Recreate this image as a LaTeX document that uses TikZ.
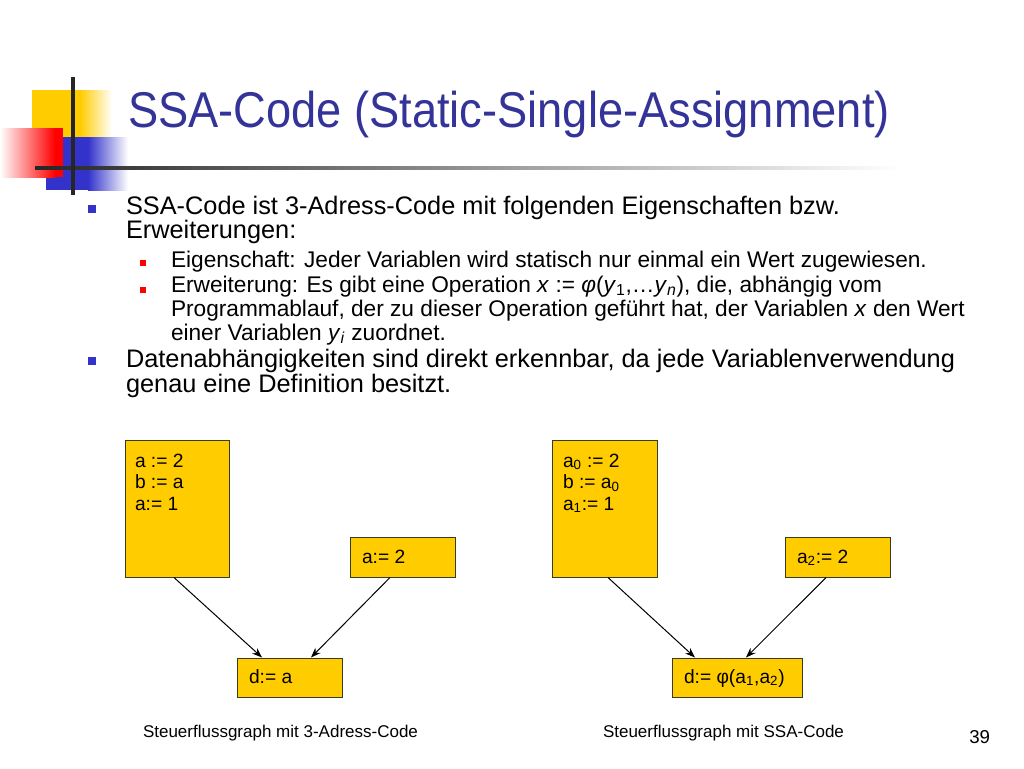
\documentclass[tikz,border=0pt]{standalone}
\usepackage{fontspec}
\setmainfont{Liberation Sans}
\newfontfamily\titlefont[FakeStretch=0.9]{Liberation Sans}
\usetikzlibrary{arrows.meta}
\definecolor{gold}{HTML}{FFCC00}
\definecolor{titleblue}{HTML}{333399}
\definecolor{bulletblue}{HTML}{3333CC}
\definecolor{decoblue}{HTML}{3333CC}
\definecolor{boxline}{HTML}{3A3A20}
\begin{document}
\begin{tikzpicture}[x=0.75pt,y=-0.75pt,
  txt/.style={anchor=base west,inner sep=0pt,outer sep=0pt},
  lone/.style={txt,font=\fontsize{19}{22}\selectfont},
  ltwo/.style={txt,font=\fontsize{17}{20}\selectfont},
  btxt/.style={txt,font=\fontsize{14.4}{17}\selectfont},
  captxt/.style={txt,font=\fontsize{12.75}{15}\selectfont},
  cfgbox/.style={draw=boxline,fill=gold,line width=0.75pt,inner sep=0pt},
  arr/.style={draw=black,line width=0.75pt,-{Stealth[length=7.5pt,width=5.5pt]}}
]
\useasboundingbox (0,0) rectangle (1024,768);
\fill[white] (0,0) rectangle (1024,768);
% decoration
\fill[gold] (32,90) rectangle (80,137);
\shade[left color=gold,right color=white] (80,90) rectangle (112,137);
\fill[decoblue] (46,137) rectangle (88,190);
\shade[left color=decoblue,right color=white] (88,137) rectangle (128,190);
\shade[left color=white,right color=red] (0,128) rectangle (55,177);
\fill[red] (55,128) rectangle (63,177);
\shade[left color=black!85,middle color=black!55,right color=white] (35,166) rectangle (900,169.5);
\fill[black!85] (71,77) rectangle (74.5,195);
% title
\node[txt,text=titleblue,font=\titlefont\fontsize{37.7}{42}\selectfont] (title) at (128,127) {SSA-Code (Static-Single-Assignment)};
% bullets
\fill[bulletblue] (88,205) rectangle (96,213);
\fill[bulletblue] (88,357) rectangle (96,365);
\fill[red] (139.5,259.5) rectangle (145.5,265.5);
\fill[red] (139.5,286.5) rectangle (145.5,292.5);
% body
\node[lone] (l1) at (126,214) {SSA-Code ist 3-Adress-Code mit folgenden Eigenschaften bzw.};
\node[lone] (l2) at (126,238.5) {Erweiterungen:};
\node[ltwo] (l3) at (171,267) {Eigenschaft: Jeder Variablen wird statisch nur einmal ein Wert zugewiesen.};
\node[ltwo] (l4) at (171,292) {Erweiterung: Es gibt eine Operation \textit{x} := \textit{φ}(\textit{y}\textsubscript{1},…\textit{y}\textsubscript{\textit{n}}), die, abhängig vom};
\node[ltwo] (l5) at (171,316) {Programmablauf, der zu dieser Operation geführt hat, der Variablen \textit{x} den Wert};
\node[ltwo] (l6) at (171,340) {einer Variablen \textit{y}\textsubscript{\textit{i}} zuordnet.};
\node[lone] (l7) at (126,367.5) {Datenabhängigkeiten sind direkt erkennbar, da jede Variablenverwendung};
\node[lone] (l8) at (126,392) {genau eine Definition besitzt.};
% left graph
\node[cfgbox,minimum width=78pt,minimum height=102.75pt] (A) at (177,508.5) {};
\node[cfgbox,minimum width=78.75pt,minimum height=30pt] (B) at (402.5,557) {};
\node[cfgbox,minimum width=78.75pt,minimum height=29.25pt] (D) at (289.5,677.5) {};
\node[btxt] (a1) at (135,467) {a := 2};
\node[btxt] (a2) at (135,488.5) {b := a};
\node[btxt] (a3) at (135,510) {a:= 1};
\node[btxt] (b1) at (362,563) {a:= 2};
\node[btxt] (d1) at (249,683) {d:= a};
\draw[arr] ([xshift=-2.25pt]A.south) -- ([xshift=-20.6pt]D.north);
\draw[arr] ([xshift=-9.4pt]B.south) -- ([xshift=16.1pt]D.north);
% right graph
\node[cfgbox,minimum width=78.75pt,minimum height=102.75pt] (A2) at (604.5,508.5) {};
\node[cfgbox,minimum width=78.75pt,minimum height=30pt] (B2) at (837.5,557) {};
\node[cfgbox,minimum width=97.5pt,minimum height=29.25pt] (D2) at (737,677.5) {};
\node[btxt] (c1) at (563,467) {a\textsubscript{0} := 2};
\node[btxt] (c2) at (563,488.5) {b := a\textsubscript{0}};
\node[btxt] (c3) at (563,510) {a\textsubscript{1}:= 1};
\node[btxt] (e1) at (797,563) {a\textsubscript{2}:= 2};
\node[btxt] (f1) at (684,683) {d:= φ(a\textsubscript{1},a\textsubscript{2})};
\draw[arr] ([xshift=2.6pt]A2.south) -- ([xshift=-31.5pt]D2.north);
\draw[arr] ([xshift=-8.6pt]B2.south) -- ([xshift=6.75pt]D2.north);
% captions
\node[captxt] (cap1) at (143,737) {Steuerflussgraph mit 3-Adress-Code};
\node[captxt] (cap2) at (603,737) {Steuerflussgraph mit SSA-Code};
\node[txt,anchor=base east,font=\fontsize{14}{16}\selectfont] (pg) at (990,743) {39};
\end{tikzpicture}
\end{document}
